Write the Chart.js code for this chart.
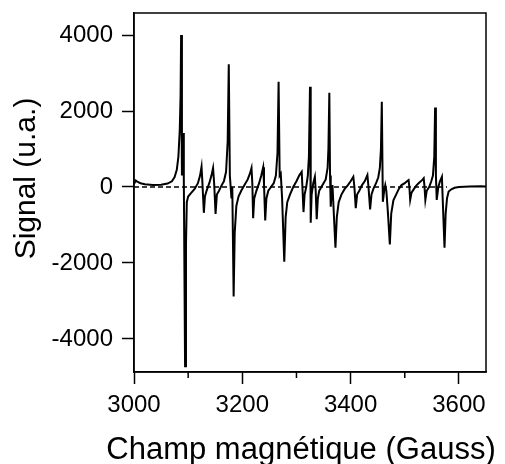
<!DOCTYPE html>
<html>
<head>
<meta charset="utf-8">
<script src="https://cdn.jsdelivr.net/npm/chart.js@4/dist/chart.umd.min.js"></script>
<style>
html,body{margin:0;padding:0;background:#fff;}
#wrap{width:505px;height:464px;}
</style>
</head>
<body>
<div id="wrap"><canvas id="c" width="505" height="464"></canvas></div>
<script>
// Magnetic field (Gauss)
const field = [3000,3003,3006,3012,3020,3035,3050,3062,3070,3075,3079,3082,3084.5,3086,3087,3088.5,3090.5,3092,3094.3,3096,3097.5,3100,3106,3112,3118,3122,3124.7,3126,3129,3131,3134,3139,3143,3146,3148,3150.6,3153,3157,3162,3166,3170,3173,3175,3177,3180,3181.5,3184,3186,3189,3193,3198,3204,3210,3214,3217,3218.5,3220,3222,3226,3231,3235,3238.6,3240,3242.3,3244.5,3248,3253,3258,3262,3265,3267,3269,3271,3273.5,3277.5,3280,3283,3288,3294,3300,3305,3309.7,3311,3313,3315,3318,3321,3323,3325,3326.3,3328,3331,3334,3335.5,3337.4,3339.5,3342,3346,3350,3354,3357.5,3359,3360.7,3362,3363.3,3365,3366.5,3368,3372,3374.5,3378,3383,3389,3395,3400,3405,3407,3409.5,3412,3416,3421,3426,3431,3433,3436,3438.5,3442,3447,3451,3454,3456,3457.6,3459.5,3462,3464,3466,3469,3472.4,3475,3479,3484,3489,3494,3500,3504,3507,3508.5,3510,3512.5,3517,3522,3527,3532,3535,3536.5,3538,3540.5,3545,3549,3552,3554.5,3556,3557.5,3559,3562,3565,3568.6,3570,3573.4,3575.5,3578,3581,3586,3592,3600,3620,3640,3650];
// EPR signal (u.a.)
const signal = [80,170,140,100,70,50,60,90,150,260,450,800,1500,2400,4000,300,1420,200,-4720,-1500,-400,-250,-150,-50,100,300,530,200,-680,-250,-100,100,300,500,100,-710,-200,-100,50,150,400,1200,3230,300,-300,0,-2885,-1200,-500,-250,-100,50,200,350,500,100,-820,-300,-100,100,300,520,100,-880,-300,-100,0,100,300,900,2770,300,350,-300,-1965,-800,-400,-200,0,150,300,400,0,-660,-200,0,300,800,2640,-940,-200,100,270,-100,-850,-300,-100,0,100,200,500,1000,2480,300,-520,-100,50,-400,-1600,-800,-400,-200,-50,50,150,270,0,-560,-200,-100,50,150,315,0,-590,-200,-50,100,250,500,1000,2245,-390,-100,50,-100,-700,-1510,-700,-350,-200,-50,50,100,150,180,0,-340,-150,-50,50,120,180,230,0,-340,-100,0,150,300,800,2090,300,-340,0,150,270,-300,-1600,-700,-300,-120,-60,-20,0,10,20,10];
// Dashed zero reference line
const zeroField = [3000, 3578];
const zeroSignal = [0, 0];
// Ticks
const xMajorTicks = [3000, 3200, 3400, 3600];
const xMinorTicks = [3100, 3300, 3500];
const yTicks = [-4000, -2000, 0, 2000, 4000];
// Axis titles
const xTitle = 'Champ magnétique (Gauss)';
const yTitle = 'Signal (u.a.)';

const spectrum = field.map((x, i) => ({x: x, y: signal[i]}));
const zeroLine = zeroField.map((x, i) => ({x: x, y: zeroSignal[i]}));

const FONT = "'Liberation Sans', Arial, Helvetica, sans-serif";

const framePlugin = {
  id: 'frame',
  afterDraw(chart) {
    const {ctx, chartArea: a, scales: {x}} = chart;
    ctx.save();
    ctx.strokeStyle = '#000';
    ctx.lineWidth = 1.5;
    ctx.strokeRect(a.left, a.top, a.right - a.left, a.bottom - a.top);
    xMinorTicks.forEach(v => {
      const px = x.getPixelForValue(v);
      ctx.beginPath();
      ctx.moveTo(px, a.bottom);
      ctx.lineTo(px, a.bottom + 6);
      ctx.stroke();
    });
    // axis titles
    ctx.fillStyle = '#000';
    ctx.textBaseline = 'alphabetic';
    ctx.textAlign = 'center';
    ctx.font = '31px ' + FONT;
    ctx.fillText(xTitle, 301, 459);
    ctx.translate(35, 178.5);
    ctx.rotate(-Math.PI / 2);
    ctx.font = '30px ' + FONT;
    ctx.fillText(yTitle, 0, 0);
    ctx.restore();
  }
};

function noPad(s) { s.paddingTop = 0; s.paddingBottom = 0; s.paddingLeft = 0; s.paddingRight = 0; }

new Chart(document.getElementById('c'), {
  type: 'line',
  data: {
    datasets: [
      {data: spectrum, borderColor: '#000', borderWidth: 2, pointRadius: 0, tension: 0, fill: false, order: 0},
      {data: zeroLine, borderColor: '#000', borderWidth: 1.5, borderDash: [5, 3], pointRadius: 0, tension: 0, fill: false, order: 1}
    ]
  },
  options: {
    responsive: false,
    animation: false,
    layout: {padding: {left: 0, right: 19, top: 13, bottom: 0}},
    plugins: {legend: {display: false}, tooltip: {enabled: false}},
    scales: {
      x: {
        type: 'linear',
        min: 3000, max: 3650,
        afterBuildTicks: s => { s.ticks = xMajorTicks.map(v => ({value: v})); },
        afterFit: s => { s.height = 92; noPad(s); },
        grid: {drawOnChartArea: false, drawTicks: true, tickLength: 12, tickColor: '#000', tickWidth: 1.5},
        border: {display: true, color: '#000', width: 1.5},
        ticks: {color: '#000', font: {family: FONT, size: 24}, padding: 7, maxRotation: 0, autoSkip: false, callback: v => String(v)},
        title: {display: false}
      },
      y: {
        type: 'linear',
        min: -4870, max: 4580,
        afterBuildTicks: s => { s.ticks = yTicks.map(v => ({value: v})); },
        afterFit: s => { s.width = 134; noPad(s); },
        grid: {drawOnChartArea: false, drawTicks: true, tickLength: 12, tickColor: '#000', tickWidth: 1.5},
        border: {display: true, color: '#000', width: 1.5},
        ticks: {color: '#000', font: {family: FONT, size: 24}, padding: 9, autoSkip: false, callback: v => String(v)},
        title: {display: false}
      }
    }
  },
  plugins: [framePlugin]
});
</script>
</body>
</html>
